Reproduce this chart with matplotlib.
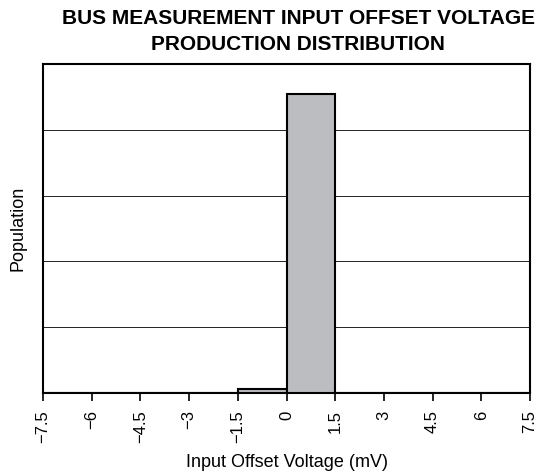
import matplotlib
matplotlib.use("Agg")
import matplotlib.pyplot as plt
import numpy as np

plt.rcParams['font.family'] = ['Liberation Sans', 'DejaVu Sans']

bin_edges = [-7.5, -6, -4.5, -3, -1.5, 0, 1.5, 3, 4.5, 6, 7.5]
counts = [0, 0, 0, 0, 0.06, 4.55, 0, 0, 0, 0]
tick_labels = ['−7.5', '−6', '−4.5', '−3', '−1.5', '0', '1.5', '3', '4.5', '6', '7.5']

fig = plt.figure(figsize=(5.5, 4.74), dpi=100)
ax = fig.add_axes([43/550, 1-393/474, (530-43)/550, (393-64)/474])

lefts = np.array(bin_edges[:-1])
widths = np.diff(bin_edges)
ax.bar(lefts, counts, width=widths, align='edge', color='#bcbdc0',
       edgecolor='black', linewidth=1.5, zorder=3)

ax.set_xlim(-7.5, 7.5)
ax.set_ylim(0, 5)
ax.set_yticks([1, 2, 3, 4])
ax.yaxis.grid(True, color='black', linewidth=0.6, zorder=0)
ax.tick_params(axis='y', left=False, labelleft=False)
ax.set_xticks(bin_edges)
ax.set_xticklabels(tick_labels, rotation=90, fontsize=12)
ax.tick_params(axis='x', direction='out', length=5.5, width=1.2, pad=7)
for s in ax.spines.values():
    s.set_linewidth(1.5)

ax.set_xlabel('Input Offset Voltage (mV)', fontsize=13, labelpad=8)
ax.set_ylabel('Population', fontsize=13, labelpad=12)

fig.text(0.542, 0.98, 'BUS MEASUREMENT INPUT OFFSET VOLTAGE\nPRODUCTION DISTRIBUTION',
         ha='center', va='top', fontsize=15, fontweight='bold', linespacing=1.42)

fig.savefig('out.png', dpi=100)
